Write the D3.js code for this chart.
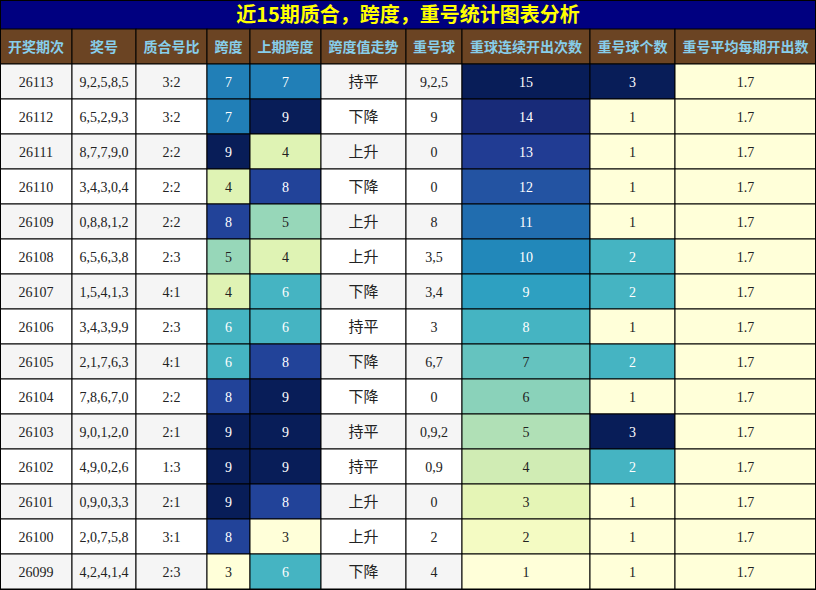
<!DOCTYPE html><html><head><meta charset="utf-8"><script src="https://cdn.jsdelivr.net/npm/d3@7"></script>
<style>body{margin:0;background:#fff}</style></head><body><svg id="c" width="816" height="590"></svg>
<script>
const headers=["开奖期次","奖号","质合号比","跨度","上期跨度","跨度值走势","重号球","重球连续开出次数","重号球个数","重号平均每期开出数"];
const periods=["26113","26112","26111","26110","26109","26108","26107","26106","26105","26104","26103","26102","26101","26100","26099"];
const draws=["9,2,5,8,5","6,5,2,9,3","8,7,7,9,0","3,4,3,0,4","0,8,8,1,2","6,5,6,3,8","1,5,4,1,3","3,4,3,9,9","2,1,7,6,3","7,8,6,7,0","9,0,1,2,0","4,9,0,2,6","0,9,0,3,3","2,0,7,5,8","4,2,4,1,4"];
const ratios=["3:2","3:2","2:2","2:2","2:2","2:3","4:1","2:3","4:1","2:2","2:1","1:3","2:1","3:1","2:3"];
const spans=[7,7,9,4,8,5,4,6,6,8,9,9,9,8,3];
const prevSpans=[7,9,4,8,5,4,6,6,8,9,9,9,8,3,6];
const trends=["持平","下降","上升","下降","上升","上升","下降","持平","下降","下降","持平","持平","上升","上升","下降"];
const repeats=["9,2,5","9","0","0","8","3,5","3,4","3","6,7","0","0,9,2","0,9","0","2","4"];
const consec=[15,14,13,12,11,10,9,8,7,6,5,4,3,2,1];
const repCount=[3,1,1,1,1,2,2,1,2,1,3,2,1,1,1];
const avg=[1.7,1.7,1.7,1.7,1.7,1.7,1.7,1.7,1.7,1.7,1.7,1.7,1.7,1.7,1.7];
const title="近15期质合，跨度，重号统计图表分析";
const colX=[0,72,136,207,250,321,406,462,590,675,816];
const svg=d3.select("#c");
const y=d3.scaleBand().domain(d3.range(15)).range([64,589]);
svg.append("rect").attr("x",0).attr("y",0).attr("width",816).attr("height",29).attr("fill","#000080");
svg.append("text").attr("x",408).attr("y",22).attr("text-anchor","middle").attr("fill","#ffff00").attr("font-size",20).attr("font-weight","bold").attr("font-family","Noto Sans CJK SC, sans-serif").text(title);
const spanS=d3.scaleSequential(d3.interpolateYlGnBu).domain([3,9]);
const consS=d3.scaleSequential(d3.interpolateYlGnBu).domain([1,15]);
const cntS=d3.scaleSequential(d3.interpolateYlGnBu).domain([1,3]);
const avgS=()=>d3.interpolateYlGnBu(0);
headers.forEach((h,i)=>{
 svg.append("rect").attr("x",colX[i]).attr("y",29).attr("width",colX[i+1]-colX[i]).attr("height",35).attr("fill","#6b4423").attr("stroke","#000");
 svg.append("text").attr("x",(colX[i]+colX[i+1])/2).attr("y",52).attr("text-anchor","middle").attr("fill","#87ceeb").attr("font-size",14).attr("font-weight","bold").attr("font-family","Noto Sans CJK SC, sans-serif").text(h);
});
const cols=[
 {v:periods},{v:draws},{v:ratios},
 {v:spans,s:spanS},{v:prevSpans,s:spanS},{v:trends,cjk:1},{v:repeats},
 {v:consec,s:consS},{v:repCount,s:cntS},{v:avg,s:avgS}];
periods.forEach((p,r)=>{
 const bg=r%2===0?"#f5f5f5":"#ffffff";
 cols.forEach((c,i)=>{
  const val=c.v[r];
  let fill=bg,tc="#222";
  if(c.s){fill=c.s(val);const t=c.s.domain?(val-c.s.domain()[0])/(c.s.domain()[1]-c.s.domain()[0]):0;tc=t>=0.5?"#ffffff":"#222";}
  svg.append("rect").attr("x",colX[i]).attr("y",y(r)).attr("width",colX[i+1]-colX[i]).attr("height",y.bandwidth()).attr("fill",fill).attr("stroke","#000");
  svg.append("text").attr("x",(colX[i]+colX[i+1])/2).attr("y",y(r)+y.bandwidth()/2+5).attr("text-anchor","middle").attr("fill",tc)
   .attr("font-size",c.cjk?15:14).attr("font-family",c.cjk?"Noto Sans CJK SC, sans-serif":"Liberation Serif, serif").text(val);
 });
});
svg.append("rect").attr("x",0.5).attr("y",0.5).attr("width",815).attr("height",589).attr("fill","none").attr("stroke","#000");
</script></body></html>
